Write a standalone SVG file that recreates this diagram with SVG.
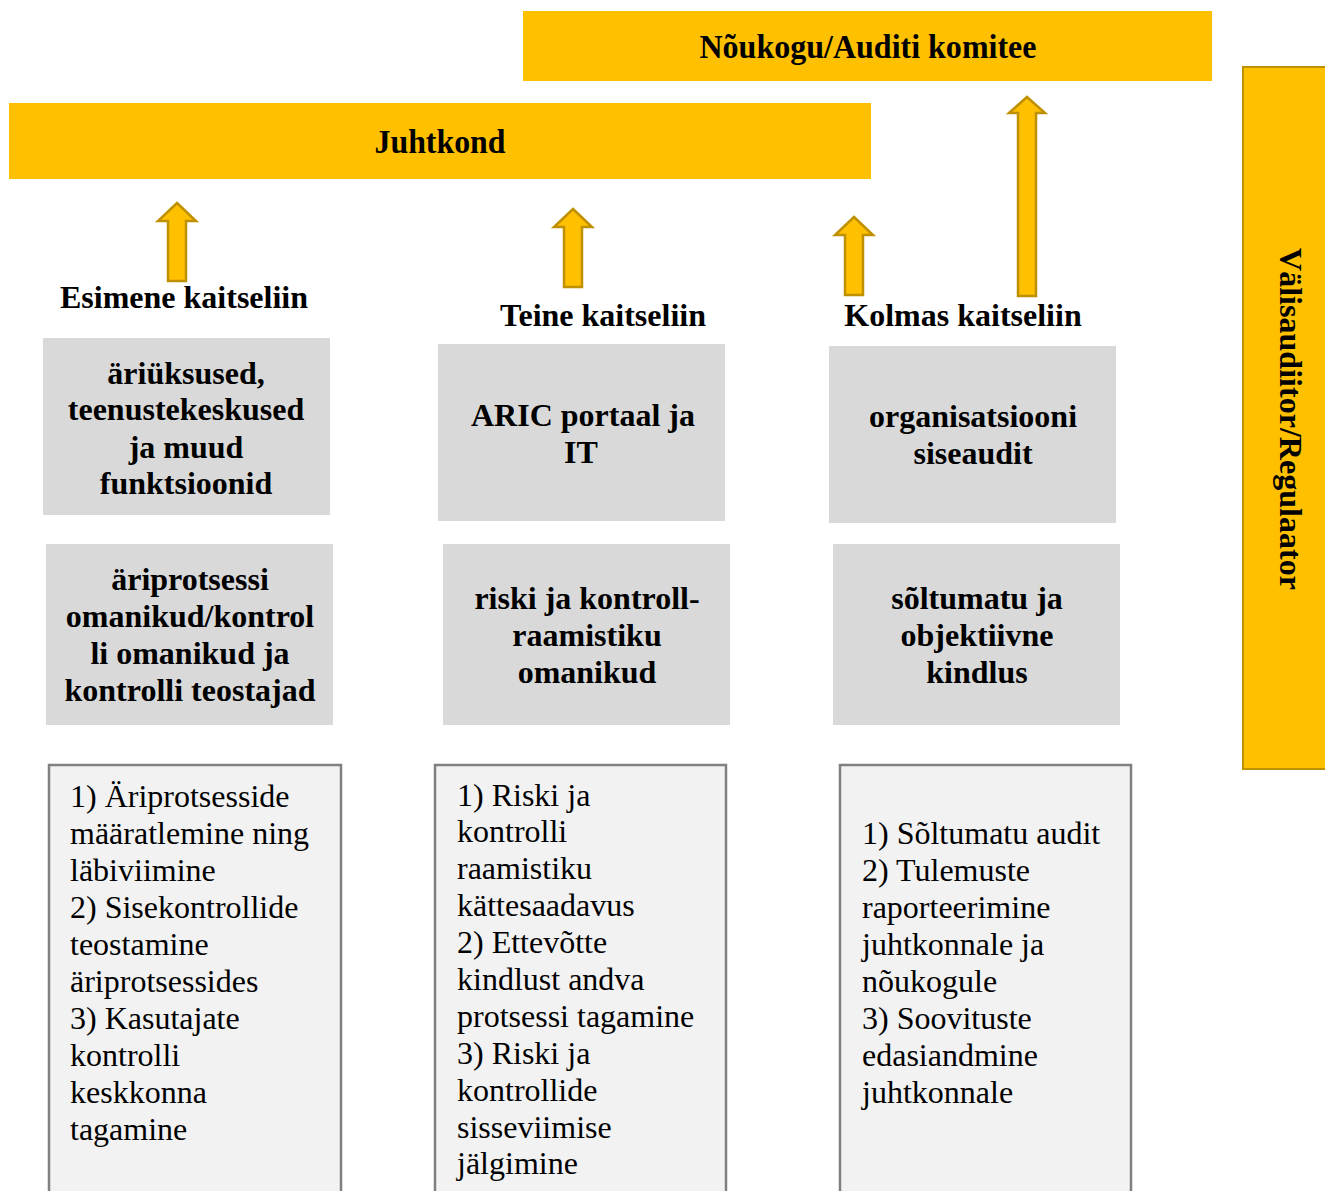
<svg xmlns="http://www.w3.org/2000/svg" width="1325" height="1191" viewBox="0 0 1325 1191">
<style>
.banner{fill:#FFC000}
.vbar{fill:#FFC000;stroke:#BF9000;stroke-width:2}
.arrow{fill:#FFC000;stroke:#BF9000;stroke-width:2.5;stroke-linejoin:miter}
.grey{fill:#D9D9D9}
.list{fill:#F2F2F2;stroke:#808080;stroke-width:2.5}
.bt{font-family:"Liberation Serif","Times New Roman",serif;font-weight:bold;fill:#000}
.ban{font-size:33px;text-anchor:middle}
.hd{font-size:32px;text-anchor:middle}
.gb{font-size:32px;text-anchor:middle}
.rt{font-family:"Liberation Serif","Times New Roman",serif;font-size:32px;fill:#000}
</style>
<g id="noukogu">
<rect class="banner" x="523" y="11" width="689" height="70"/>
<text class="bt ban" x="868" y="58" textLength="337" lengthAdjust="spacingAndGlyphs">Nõukogu/Auditi komitee</text>
</g>
<g id="juhtkond">
<rect class="banner" x="9" y="103" width="862" height="76"/>
<text class="bt ban" x="440" y="153" textLength="131" lengthAdjust="spacingAndGlyphs">Juhtkond</text>
</g>
<g id="valisaudiitor">
<rect class="vbar" x="1243" y="67" width="90" height="702"/>
<text class="bt" font-size="32" text-anchor="middle" transform="translate(1280,419) rotate(90)" textLength="342" lengthAdjust="spacingAndGlyphs">Välisaudiitor/Regulaator</text>
</g>
<g id="connectors">
<path class="arrow" d="M177,203 L196,221 L186,221 L186,281 L168,281 L168,221 L158,221 Z"/>
<path class="arrow" d="M573,209 L592,227 L582,227 L582,287 L564,287 L564,227 L554,227 Z"/>
<path class="arrow" d="M854,217 L873,235 L863,235 L863,295 L845,295 L845,235 L835,235 Z"/>
<path class="arrow" d="M1027,97 L1045,113 L1036,113 L1036,296 L1018,296 L1018,113 L1009,113 Z"/>
</g>
<g id="esimene-label"><text class="bt hd" x="184" y="308">Esimene kaitseliin</text></g>
<g id="teine-label"><text class="bt hd" x="603" y="326">Teine kaitseliin</text></g>
<g id="kolmas-label"><text class="bt hd" x="963" y="326">Kolmas kaitseliin</text></g>
<g id="ariuksused">
<rect class="grey" x="43" y="338" width="287" height="177"/>
<text class="bt gb" x="186" y="384">äriüksused,</text>
<text class="bt gb" x="186" y="420">teenustekeskused</text>
<text class="bt gb" x="186" y="458">ja muud</text>
<text class="bt gb" x="186" y="494">funktsioonid</text>
</g>
<g id="aric">
<rect class="grey" x="438" y="344" width="287" height="177"/>
<text class="bt gb" x="583" y="426">ARIC portaal ja</text>
<text class="bt gb" x="581" y="463">IT</text>
</g>
<g id="organisatsioon">
<rect class="grey" x="829" y="346" width="287" height="177"/>
<text class="bt gb" x="973" y="427">organisatsiooni</text>
<text class="bt gb" x="973" y="464">siseaudit</text>
</g>
<g id="ariprotsessi">
<rect class="grey" x="46" y="544" width="287" height="181"/>
<text class="bt gb" x="190" y="590">äriprotsessi</text>
<text class="bt gb" x="190" y="627">omanikud/kontrol</text>
<text class="bt gb" x="190" y="664">li omanikud ja</text>
<text class="bt gb" x="190" y="701">kontrolli teostajad</text>
</g>
<g id="riski">
<rect class="grey" x="443" y="544" width="287" height="181"/>
<text class="bt gb" x="587" y="609">riski ja kontroll-</text>
<text class="bt gb" x="587" y="646">raamistiku</text>
<text class="bt gb" x="587" y="683">omanikud</text>
</g>
<g id="soltumatu">
<rect class="grey" x="833" y="544" width="287" height="181"/>
<text class="bt gb" x="977" y="609">sõltumatu ja</text>
<text class="bt gb" x="977" y="646">objektiivne</text>
<text class="bt gb" x="977" y="683">kindlus</text>
</g>
<g id="list1">
<rect class="list" x="49" y="765" width="292" height="440"/>
<text class="rt" x="70" y="807">1) Äriprotsesside</text>
<text class="rt" x="70" y="844">määratlemine ning</text>
<text class="rt" x="70" y="881">läbiviimine</text>
<text class="rt" x="70" y="918">2) Sisekontrollide</text>
<text class="rt" x="70" y="955">teostamine</text>
<text class="rt" x="70" y="992">äriprotsessides</text>
<text class="rt" x="70" y="1029">3) Kasutajate</text>
<text class="rt" x="70" y="1066">kontrolli</text>
<text class="rt" x="70" y="1103">keskkonna</text>
<text class="rt" x="70" y="1140">tagamine</text>
</g>
<g id="list2">
<rect class="list" x="435" y="765" width="291" height="440"/>
<text class="rt" x="457" y="806">1) Riski ja</text>
<text class="rt" x="457" y="842">kontrolli</text>
<text class="rt" x="457" y="879">raamistiku</text>
<text class="rt" x="457" y="916">kättesaadavus</text>
<text class="rt" x="457" y="953">2) Ettevõtte</text>
<text class="rt" x="457" y="990">kindlust andva</text>
<text class="rt" x="457" y="1027">protsessi tagamine</text>
<text class="rt" x="457" y="1064">3) Riski ja</text>
<text class="rt" x="457" y="1101">kontrollide</text>
<text class="rt" x="457" y="1138">sisseviimise</text>
<text class="rt" x="457" y="1174">jälgimine</text>
</g>
<g id="list3">
<rect class="list" x="840" y="765" width="291" height="440"/>
<text class="rt" x="862" y="844">1) Sõltumatu audit</text>
<text class="rt" x="862" y="881">2) Tulemuste</text>
<text class="rt" x="862" y="918">raporteerimine</text>
<text class="rt" x="862" y="955">juhtkonnale ja</text>
<text class="rt" x="862" y="992">nõukogule</text>
<text class="rt" x="862" y="1029">3) Soovituste</text>
<text class="rt" x="862" y="1066">edasiandmine</text>
<text class="rt" x="862" y="1103">juhtkonnale</text>
</g>
</svg>
